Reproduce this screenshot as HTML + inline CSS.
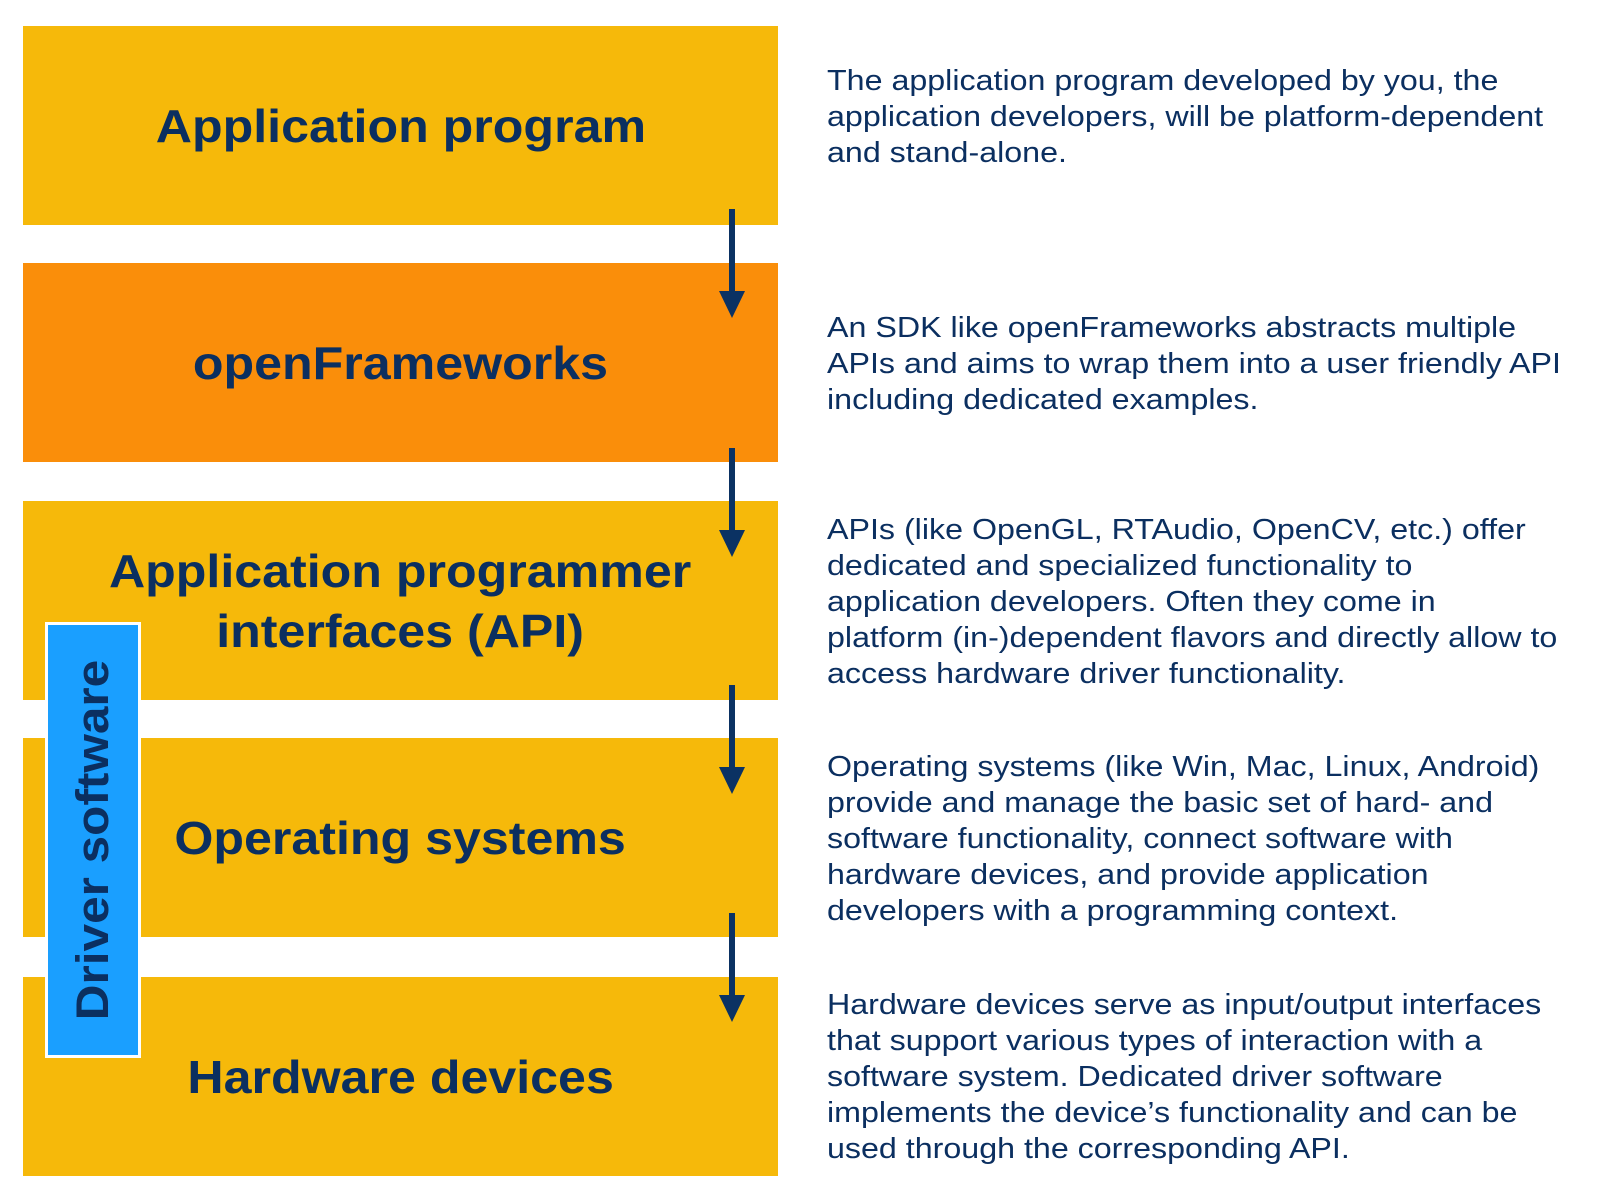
<!DOCTYPE html>
<html><head><style>
body{margin:0;width:1604px;height:1196px;background:#fff;position:relative;overflow:hidden;font-family:"Liberation Sans",Arial,sans-serif;color:#0b2f60}
.b{position:absolute;left:23px;width:755px;height:199px;background:#f6b90a;display:flex;align-items:center;justify-content:center;text-align:center;font-weight:bold;font-size:46px;line-height:60px;color:#0b2f60}
.b div{transform:scaleX(1.09)}
.o{background:#fa8e0a}
.t{position:absolute;left:827px;font-size:28.5px;line-height:36px;white-space:nowrap;transform:scaleX(1.13);transform-origin:0 0}
.a{position:absolute;left:729px;width:6px;background:#0b3263}
.h{position:absolute;left:719px;width:0;height:0;border-left:13px solid transparent;border-right:13px solid transparent;border-top:27px solid #0b3263}
.d{position:absolute;left:45px;top:622px;width:90px;height:430px;background:#1a9fff;border:3px solid #fff}
.d span{position:absolute;left:50%;top:50%;transform:translate(-50%,-50%) rotate(-90deg) scaleX(1.1);font-weight:bold;font-size:45px;white-space:nowrap;color:#0b2f60}
</style></head><body>
<div class="b" style="top:26px"><div>Application program</div></div>
<div class="b o" style="top:263px"><div>openFrameworks</div></div>
<div class="b" style="top:501px"><div>Application programmer<br>interfaces (API)</div></div>
<div class="b" style="top:738px"><div>Operating systems</div></div>
<div class="b" style="top:977px"><div>Hardware devices</div></div>
<div class="d"><span>Driver software</span></div>

<div class="a" style="top:209px;height:84px"></div><div class="h" style="top:291px"></div>
<div class="a" style="top:448px;height:84px"></div><div class="h" style="top:530px"></div>
<div class="a" style="top:685px;height:84px"></div><div class="h" style="top:767px"></div>
<div class="a" style="top:913px;height:84px"></div><div class="h" style="top:995px"></div>

<div class="t" style="top:63px">The application program developed by you, the<br>application developers, will be platform-dependent<br>and stand-alone.</div>
<div class="t" style="top:310px">An SDK like openFrameworks abstracts multiple<br>APIs and aims to wrap them into a user friendly API<br>including dedicated examples.</div>
<div class="t" style="top:512px">APIs (like OpenGL, RTAudio, OpenCV, etc.) offer<br>dedicated and specialized functionality to<br>application developers. Often they come in<br>platform (in-)dependent flavors and directly allow to<br>access hardware driver functionality.</div>
<div class="t" style="top:749px">Operating systems (like Win, Mac, Linux, Android)<br>provide and manage the basic set of hard- and<br>software functionality, connect software with<br>hardware devices, and provide application<br>developers with a programming context.</div>
<div class="t" style="top:987px">Hardware devices serve as input/output interfaces<br>that support various types of interaction with a<br>software system. Dedicated driver software<br>implements the device’s functionality and can be<br>used through the corresponding API.</div>
</body></html>
